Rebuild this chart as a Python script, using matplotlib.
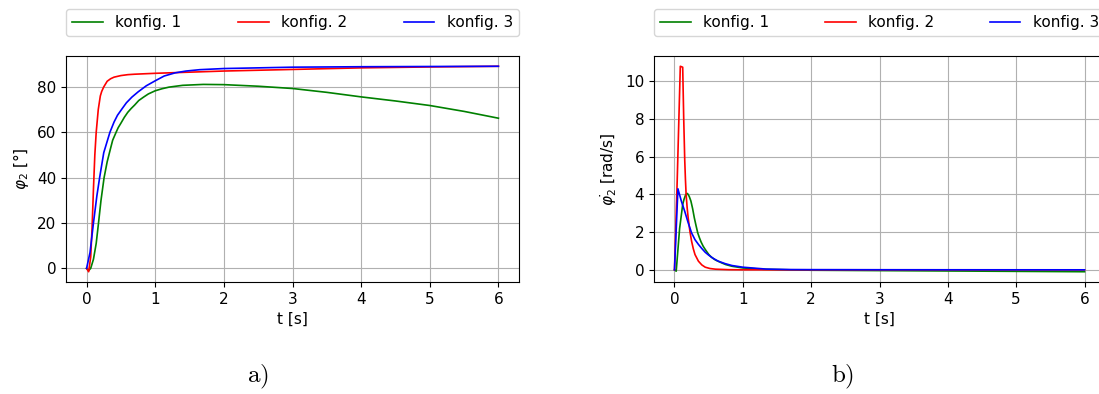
import matplotlib
matplotlib.use("Agg")
import matplotlib.pyplot as plt

plt.rcParams["font.size"] = 11

labels = ["konfig. 1", "konfig. 2", "konfig. 3"]
colors = ["green", "red", "blue"]

# panel a) - angle phi_2 [deg]
t_phi1 = [0, 0.03, 0.06, 0.1, 0.14, 0.17, 0.21, 0.255, 0.3, 0.35, 0.38, 0.43, 0.46, 0.5,
          0.55, 0.6, 0.65, 0.7, 0.76, 0.83, 0.9, 1.0, 1.1, 1.2, 1.4, 1.7, 2.0, 2.5, 3.0,
          3.5, 4.0, 4.5, 5.0, 5.5, 6.0]
phi1 = [0, -1.0, 0, 4, 11, 19, 30, 40, 47, 53, 56.5, 60, 62, 64,
        66.6, 68.8, 70.5, 72, 74, 75.5, 76.9, 78.3, 79.2, 79.9, 80.7, 81.1, 81.0, 80.3, 79.3,
        77.6, 75.6, 73.8, 71.8, 69.2, 66.2]

t_phi2 = [0, 0.03, 0.06, 0.08, 0.1, 0.12, 0.14, 0.17, 0.2, 0.22, 0.25, 0.3, 0.35, 0.4,
          0.5, 0.6, 0.7, 0.85, 1.0, 1.3, 2.0, 3.0, 4.0, 5.0, 6.0]
phi2 = [0, -1.5, 5, 18, 35, 50, 60, 70, 76, 78, 80, 82.5, 83.6, 84.3,
        85.0, 85.4, 85.6, 85.8, 86.0, 86.3, 87.0, 87.7, 88.4, 88.8, 89.1]

t_phi3 = [0, 0.05, 0.1, 0.15, 0.19, 0.25, 0.3, 0.34, 0.4, 0.45, 0.52, 0.58, 0.66, 0.75,
          0.87, 1.0, 1.13, 1.29, 1.45, 1.65, 2.0, 3.0, 4.0, 5.0, 6.0]
phi3 = [0, 7, 20, 32, 40, 51, 56, 60, 64.5, 67.5, 70.5, 73, 75.5, 77.8,
        80.5, 82.7, 84.8, 86.2, 87.0, 87.6, 88.1, 88.7, 88.9, 89.0, 89.1]

# panel b) - angular velocity [rad/s]
t_om1 = [0, 0.025, 0.075, 0.1, 0.12, 0.14, 0.16, 0.17, 0.19, 0.215, 0.24, 0.265, 0.29,
         0.315, 0.34, 0.365, 0.39, 0.42, 0.45, 0.5, 0.54, 0.6, 0.69, 0.75, 0.84,
         1.0, 1.3, 1.7, 2.0, 3.0, 4.0, 5.0, 6.0]
om1 = [0, -0.07, 2.2, 2.9, 3.47, 3.75, 3.95, 4.02, 4.05, 3.9, 3.65, 3.25, 2.76,
       2.35, 1.96, 1.7, 1.47, 1.25, 1.08, 0.82, 0.67, 0.52, 0.37, 0.28, 0.19,
       0.1, 0.03, 0.0, -0.02, -0.04, -0.06, -0.08, -0.1]

t_om2 = [0, 0.04, 0.085, 0.12, 0.135, 0.15, 0.16, 0.17, 0.185, 0.2, 0.225, 0.25, 0.275,
         0.3, 0.35, 0.4, 0.45, 0.52, 0.6, 0.8, 1.0, 6.0]
om2 = [0, 4.8, 10.8, 10.75, 8.0, 5.8, 4.8, 4.0, 3.3, 2.76, 2.05, 1.52, 1.12,
       0.81, 0.46, 0.26, 0.14, 0.07, 0.035, 0.008, 0.002, 0.0]

t_om3 = [0, 0.05, 0.1, 0.15, 0.2, 0.25, 0.3, 0.35, 0.4, 0.45, 0.5, 0.57, 0.64, 0.74, 0.84,
         1.0, 1.34, 1.7, 2.0, 3.0, 4.0, 5.0, 6.0]
om3 = [0, 4.3, 3.65, 3.1, 2.5, 1.96, 1.6, 1.35, 1.13, 0.93, 0.78, 0.6, 0.46, 0.33, 0.23,
       0.14, 0.04, 0.015, 0.01, 0.005, 0.003, 0.002, 0.001]

W, H = 1099, 394
fig = plt.figure(figsize=(W / 100, H / 100), dpi=100)

ax_a = fig.add_axes([66 / W, (H - 282) / H, 453 / W, 226 / H])
ax_b = fig.add_axes([654 / W, (H - 282) / H, 451 / W, 226 / H])

series_a = [(t_phi1, phi1), (t_phi2, phi2), (t_phi3, phi3)]
series_b = [(t_om1, om1), (t_om2, om2), (t_om3, om3)]

for ax, series, ylab in [(ax_a, series_a, r"$\varphi_2$ [°]"),
                         (ax_b, series_b, r"$\dot{\varphi_2}$ [rad/s]")]:
    for (t, y), c, lab in zip(series, colors, labels):
        ax.plot(t, y, color=c, lw=1.2, label=lab)
    ax.grid(True)
    ax.set_xlabel("t [s]")
    ax.set_ylabel(ylab)
    ax.set_xticks(range(7))
    ax.legend(loc="lower left", bbox_to_anchor=(0, 1.088, 1, 0.1), mode="expand",
              ncol=3, borderaxespad=0)

ax_a.set_yticks([0, 20, 40, 60, 80])
ax_b.set_yticks([0, 2, 4, 6, 8, 10])

fig.text(258 / W, 1 - 377 / H, r"$\mathrm{a)}$", fontsize=18, ha="center", va="center",
         math_fontfamily="cm")
fig.text(843 / W, 1 - 377 / H, r"$\mathrm{b)}$", fontsize=18, ha="center", va="center",
         math_fontfamily="cm")

fig.savefig("out.png", dpi=100)
